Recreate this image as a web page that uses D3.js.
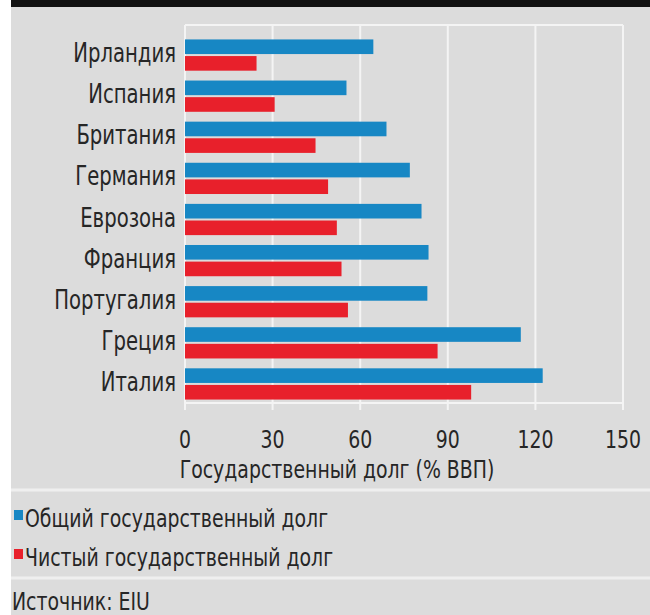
<!DOCTYPE html>
<html>
<head>
<meta charset="utf-8">
<script src="https://cdn.jsdelivr.net/npm/d3@7"></script>
<style>
html,body{margin:0;padding:0;background:#fff;}
svg{display:block;}
text{font-family:"DejaVu Sans Condensed","Liberation Sans Narrow",sans-serif;fill:#262626;}
</style>
</head>
<body>
<svg id="chart" width="650" height="615"></svg>
<script>
const categories = ["Ирландия","Испания","Британия","Германия","Еврозона","Франция","Португалия","Греция","Италия"];
const grossDebt = [64.5, 55.3, 69, 77, 81, 83.4, 83, 115, 122.5];
const netDebt = [24.5, 30.7, 44.7, 49, 52, 53.6, 55.8, 86.5, 98];
const tickValues = [0, 30, 60, 90, 120, 150];
const seriesNames = ["Общий государственный долг", "Чистый государственный долг"];
const seriesColors = ["#1787c4", "#e8202b"];
const axisTitle = "Государственный долг (% ВВП)";
const sourceText = "Источник: EIU";

const svg = d3.select("#chart");
const W = 650, H = 615;
const SX = 0.84; // horizontal condensing of the typeface

function place(sel, fx, fy) {
  return sel.attr("x", 0).attr("y", 0)
    .attr("transform", (d, i) => `translate(${typeof fx === "function" ? fx(d, i) : fx},${typeof fy === "function" ? fy(d, i) : fy}) scale(${SX},1)`);
}

// background
svg.append("rect").attr("x", 11).attr("y", 0).attr("width", W - 11).attr("height", H).attr("fill", "#dcdcdc");
svg.append("rect").attr("x", 11).attr("y", 0).attr("width", W - 11).attr("height", 7).attr("fill", "#111");

const x = d3.scaleLinear().domain([0, 150]).range([185, 623]);
const y = d3.scaleBand().domain(categories).range([34.5, 404.5]).paddingInner(0.24).paddingOuter(0.12);
const plotTop = 25, plotBottom = 403;

const g = svg.append("g");
g.selectAll("line.h").data([plotTop, plotBottom]).enter().append("line")
  .attr("x1", x(0)).attr("x2", x(150)).attr("y1", d => d).attr("y2", d => d)
  .attr("stroke", "#f4f4f4").attr("stroke-width", 2);
g.selectAll("line.v").data(tickValues).enter().append("line")
  .attr("x1", d => x(d)).attr("x2", d => x(d)).attr("y1", plotTop).attr("y2", 410)
  .attr("stroke", "#f4f4f4").attr("stroke-width", 2);

const barH = y.bandwidth() / 2 - 1;
const rows = g.selectAll("g.row").data(categories).enter().append("g")
  .attr("transform", d => `translate(0,${y(d)})`);
rows.append("rect").attr("x", x(0)).attr("y", 0)
  .attr("width", (d, i) => x(grossDebt[i]) - x(0)).attr("height", barH).attr("fill", seriesColors[0]);
rows.append("rect").attr("x", x(0)).attr("y", barH + 2)
  .attr("width", (d, i) => x(netDebt[i]) - x(0)).attr("height", barH).attr("fill", seriesColors[1]);
place(rows.append("text"), 176, y.bandwidth() / 2 + 7)
  .attr("text-anchor", "end").attr("font-size", 26).text(d => d);

// tick labels
place(svg.selectAll("text.tick").data(tickValues).enter().append("text"), d => x(d), 448)
  .attr("text-anchor", "middle").attr("font-size", 25).text(d => d);
place(svg.append("text"), 337, 478).attr("text-anchor", "middle")
  .attr("font-size", 25).text(axisTitle);

// separators
svg.selectAll("line.sep").data([490, 578]).enter().append("line")
  .attr("x1", 11).attr("x2", W).attr("y1", d => d).attr("y2", d => d)
  .attr("stroke", "#efefef").attr("stroke-width", 3);

// legend
const leg = svg.selectAll("g.leg").data(seriesNames).enter().append("g")
  .attr("transform", (d, i) => `translate(14,${510 + i * 39})`);
leg.append("rect").attr("width", 9).attr("height", 10).attr("fill", (d, i) => seriesColors[i]);
place(leg.append("text"), 11, 17).attr("font-size", 25).text(d => d);

place(svg.append("text"), 12, 610).attr("font-size", 25).text(sourceText);
</script>
</body>
</html>
